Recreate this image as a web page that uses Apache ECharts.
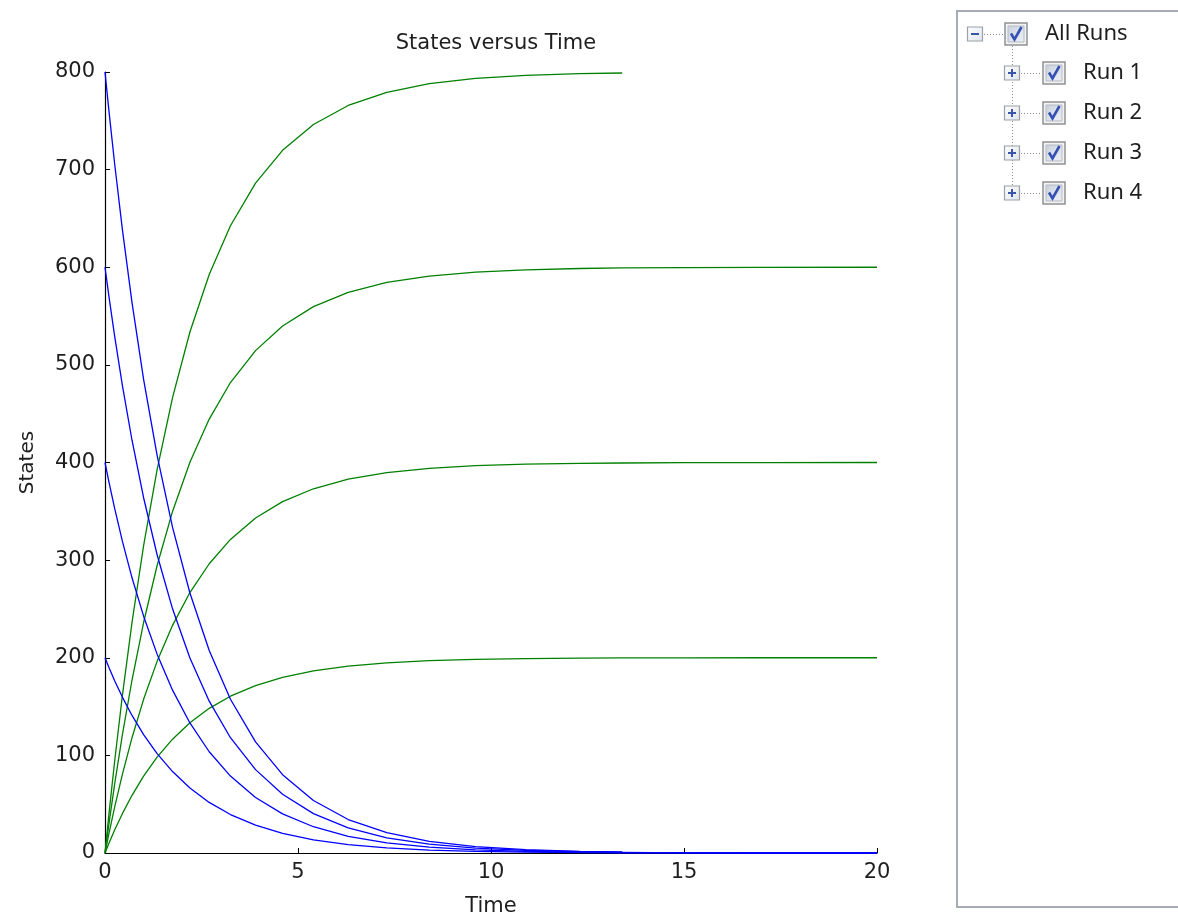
<!DOCTYPE html>
<html>
<head>
<meta charset="utf-8">
<script src="https://cdn.jsdelivr.net/npm/echarts@6/dist/echarts.min.js"></script>
<style>
html,body{margin:0;padding:0;background:#fff;}
#chart{width:1178px;height:922px;}
</style>
</head>
<body>
<div id="chart"></div>
<script>
// Time points (shared by runs 1-3); run 4 stops at 13.4
var time = [0, 0.1, 0.25, 0.45, 0.7, 1.0, 1.35, 1.75, 2.2, 2.7, 3.25, 3.9, 4.6, 5.4, 6.3, 7.3, 8.4, 9.6, 10.9, 12.3, 13.4, 15, 17, 20];
var time4 = [0, 0.1, 0.25, 0.45, 0.7, 1.0, 1.35, 1.75, 2.2, 2.7, 3.25, 3.9, 4.6, 5.4, 6.3, 7.3, 8.4, 9.6, 10.9, 12.3, 13.4];

// Decaying states (blue)
var blueRun1 = [200, 190.2, 176.5, 159.7, 140.9, 121.3, 101.8, 83.4, 66.6, 51.8, 39.4, 28.5, 20.1, 13.4, 8.6, 5.2, 3.0, 1.6, 0.9, 0.4, 0.2, 0.1, 0.0, 0.0];
var blueRun2 = [400, 380.5, 353.0, 319.4, 281.9, 242.6, 203.7, 166.8, 133.2, 103.7, 78.8, 56.9, 40.1, 26.9, 17.1, 10.4, 6.0, 3.3, 1.7, 0.9, 0.5, 0.2, 0.1, 0.0];
var blueRun3 = [600, 570.7, 529.5, 479.1, 422.8, 363.9, 305.5, 250.1, 199.7, 155.5, 118.1, 85.4, 60.2, 40.3, 25.7, 15.6, 9.0, 4.9, 2.6, 1.3, 0.7, 0.3, 0.1, 0.0];
var blueRun4 = [800, 761.0, 706.0, 638.8, 563.8, 485.2, 407.4, 333.5, 266.3, 207.4, 157.5, 113.8, 80.2, 53.8, 34.3, 20.8, 12.0, 6.6, 3.4, 1.7, 1.0];

// Rising states (green)
var greenRun1 = [0, 9.8, 23.5, 40.3, 59.1, 78.7, 98.2, 116.6, 133.4, 148.2, 160.6, 171.5, 179.9, 186.6, 191.4, 194.8, 197.0, 198.4, 199.1, 199.6, 199.8, 199.9, 200.0, 200.0];
var greenRun2 = [0, 19.5, 47.0, 80.6, 118.1, 157.4, 196.3, 233.2, 266.8, 296.3, 321.2, 343.1, 359.9, 373.1, 382.9, 389.6, 394.0, 396.7, 398.3, 399.1, 399.5, 399.8, 399.9, 400.0];
var greenRun3 = [0, 29.3, 70.5, 120.9, 177.2, 236.1, 294.5, 349.9, 400.3, 444.5, 481.9, 514.6, 539.8, 559.7, 574.3, 584.4, 591.0, 595.1, 597.4, 598.7, 599.3, 599.7, 599.9, 600.0];
var greenRun4 = [0, 39.0, 94.0, 161.2, 236.2, 314.8, 392.6, 466.5, 533.7, 592.6, 642.5, 686.2, 719.8, 746.2, 765.7, 779.2, 788.0, 793.4, 796.6, 798.3, 799.0];

var xTicks = [0, 5, 10, 15, 20];
var yTicks = [0, 100, 200, 300, 400, 500, 600, 700, 800];
var runNames = ['Run 1', 'Run 2', 'Run 3', 'Run 4'];

function pairs(t, v) { return v.map(function (y, i) { return [t[i], y]; }); }

var BLUE = '#0000ff', GREEN = '#008000';
function line(name, t, v, color) {
  return {
    name: name, type: 'line', data: pairs(t, v), showSymbol: false, symbol: 'none',
    clip: false, animation: false,
    lineStyle: { color: color, width: 1.3 }
  };
}

var series = [
  line('Run 1 green', time, greenRun1, GREEN),
  line('Run 2 green', time, greenRun2, GREEN),
  line('Run 3 green', time, greenRun3, GREEN),
  line('Run 4 green', time4, greenRun4, GREEN),
  line('Run 1 blue', time, blueRun1, BLUE),
  line('Run 2 blue', time, blueRun2, BLUE),
  line('Run 3 blue', time, blueRun3, BLUE),
  line('Run 4 blue', time4, blueRun4, BLUE)
];

// ---- tree-style legend panel (graphic) ----
var FONT = 'DejaVu Sans';
var g = [];
g.push({ type: 'rect', shape: { x: 957, y: 11, width: 260, height: 896 },
  style: { fill: 'none', stroke: '#a7abb3', lineWidth: 2 } });

function boxGrad() {
  return new echarts.graphic.LinearGradient(0, 0, 1, 1, [
    { offset: 0, color: '#ffffff' }, { offset: 1, color: '#dfe4ec' }]);
}
function checkbox(cx, cy) {
  g.push({ type: 'rect', shape: { x: cx - 11, y: cy - 11, width: 22, height: 22 },
    style: { fill: '#f2f2f2', stroke: '#8f9193', lineWidth: 1.5 } });
  g.push({ type: 'rect', shape: { x: cx - 8, y: cy - 8, width: 16, height: 16 },
    style: { fill: new echarts.graphic.LinearGradient(0, 0, 1, 1, [
      { offset: 0, color: '#c9d1de' }, { offset: 1, color: '#eef1f6' }]), stroke: '#b4bac4', lineWidth: 1 } });
  g.push({ type: 'polyline', shape: { points: [[cx - 5, cy - 0.5], [cx - 1.5, cy + 5.5], [cx + 5.5, cy - 7]] },
    style: { fill: 'none', stroke: '#3450b0', lineWidth: 2.6 } });
}
function expander(cx, cy, plus) {
  g.push({ type: 'rect', shape: { x: cx - 7.5, y: cy - 7, width: 15, height: 14 },
    style: { fill: boxGrad(), stroke: '#9aa1ab', lineWidth: 1.2 } });
  g.push({ type: 'line', shape: { x1: cx - 4, y1: cy, x2: cx + 4, y2: cy },
    style: { stroke: '#3a58a8', lineWidth: 2 } });
  if (plus) g.push({ type: 'line', shape: { x1: cx, y1: cy - 4, x2: cx, y2: cy + 4 },
    style: { stroke: '#3a58a8', lineWidth: 2 } });
}
function dots(x1, y1, x2, y2) {
  g.push({ type: 'line', shape: { x1: x1, y1: y1, x2: x2, y2: y2 },
    style: { stroke: '#8a8a8a', lineWidth: 1, lineDash: [1, 2] } });
}
function label(x, y, txt) {
  g.push({ type: 'text', x: x, y: y, style: { text: txt, fill: '#1e1e1e',
    font: '22px "Noto Sans"', textVerticalAlign: 'middle', verticalAlign: 'middle' } });
}

var rootY = 34;
expander(975, rootY, false);
dots(984, rootY + 0.5, 1003, rootY + 0.5);
checkbox(1016, rootY);
label(1045, rootY, 'All Runs');
dots(1012.5, 46, 1012.5, 186);
runNames.forEach(function (name, i) {
  var y = 73 + 40 * i;
  expander(1012, y, true);
  dots(1021, y + 0.5, 1041, y + 0.5);
  checkbox(1054, y);
  label(1083, y, name);
});

var chart = echarts.init(document.getElementById('chart'), null, { renderer: 'canvas' });
chart.setOption({
  animation: false,
  backgroundColor: '#ffffff',
  title: {
    text: 'States versus Time', left: 491, top: 28, textAlign: 'center',
    textStyle: { fontFamily: FONT, fontSize: 21, fontWeight: 'normal', color: '#1e1e1e' }
  },
  grid: { left: 105, right: 301, top: 72, bottom: 68, containLabel: false },
  xAxis: {
    type: 'value', min: 0, max: 20, interval: 5,
    name: 'Time', nameLocation: 'middle', nameGap: 43,
    nameTextStyle: { fontFamily: FONT, fontSize: 21, color: '#1e1e1e' },
    axisLine: { show: true, onZero: false, lineStyle: { color: '#000', width: 1.2 } },
    axisTick: { show: true, inside: true, length: 5, lineStyle: { color: '#000' } },
    axisLabel: { fontFamily: FONT, fontSize: 21, color: '#1e1e1e', margin: 9,
      formatter: function (v) { return xTicks.indexOf(v) >= 0 ? String(v) : ''; } },
    splitLine: { show: false }
  },
  yAxis: {
    type: 'value', min: 0, max: 800, interval: 100,
    name: 'States', nameLocation: 'middle', nameGap: 67, nameRotate: 90,
    nameTextStyle: { fontFamily: FONT, fontSize: 20, color: '#1e1e1e' },
    axisLine: { show: true, onZero: false, lineStyle: { color: '#000', width: 1.2 } },
    axisTick: { show: true, inside: true, length: 5, lineStyle: { color: '#000' } },
    axisLabel: { fontFamily: FONT, fontSize: 21, color: '#1e1e1e', margin: 10,
      formatter: function (v) { return yTicks.indexOf(v) >= 0 ? String(v) : ''; } },
    splitLine: { show: false }
  },
  series: series,
  graphic: g
});
</script>
</body>
</html>
